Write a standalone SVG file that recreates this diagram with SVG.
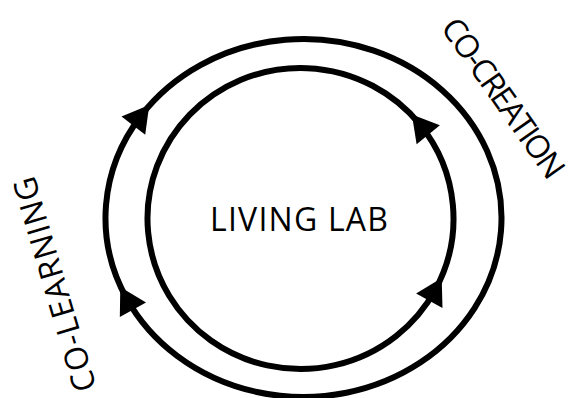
<svg xmlns="http://www.w3.org/2000/svg" width="577" height="398" viewBox="0 0 577 398">
  <style>
    .loop { fill: none; stroke: #000; stroke-width: 6; }
    .label { font-family: "Open Sans", "Noto Sans", "Liberation Sans", sans-serif; font-size: 32px; fill: #000; text-anchor: middle; }
  </style>
  <defs>
    <!-- solid triangular head, centred on the end point of the arc -->
    <marker id="head" markerUnits="userSpaceOnUse" markerWidth="26" markerHeight="30" refX="13" refY="15" orient="auto" overflow="visible">
      <path d="M0,0 L26,15 L0,30 Z" fill="#000"/>
    </marker>
  </defs>
  <rect width="577" height="398" fill="#fff"/>

  <!-- cycles: outer loop runs clockwise, inner loop counter-clockwise -->
  <g id="connectors">
    <path class="loop" d="M126.61,298.43 A198,179 0 0 1 141.31,115.33" marker-end="url(#head)"/>
    <path class="loop" d="M141.31,115.33 A198,179 0 1 1 126.61,298.43" marker-end="url(#head)"/>
    <path class="loop" d="M435.5,289.32 A153,150.5 0 0 0 420.07,124.61" marker-end="url(#head)"/>
    <path class="loop" d="M420.07,124.61 A153,150.5 0 1 0 435.5,289.32" marker-end="url(#head)"/>
  </g>

  <g id="living-lab">
    <text class="label" x="299" y="230.5" textLength="178" lengthAdjust="spacing">LIVING LAB</text>
  </g>

  <g id="co-learning" transform="translate(54.5,284.5) rotate(-106.4)">
    <text class="label" x="0" y="11.4" textLength="222" lengthAdjust="spacing">CO-LEARNING</text>
  </g>

  <g id="co-creation" transform="translate(503.5,98) rotate(54.85)">
    <text class="label" x="0" y="11.4" textLength="188" lengthAdjust="spacing">CO-CREATION</text>
  </g>
</svg>
